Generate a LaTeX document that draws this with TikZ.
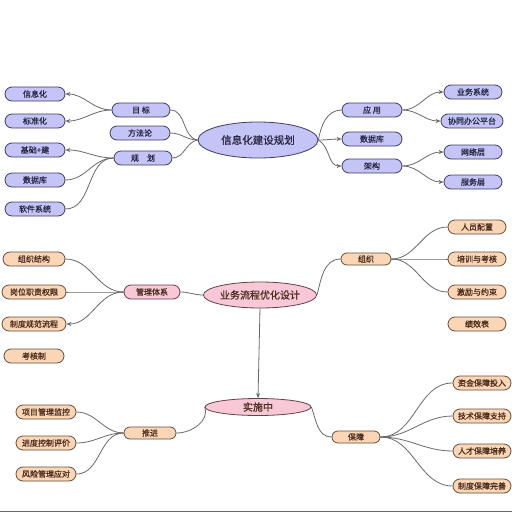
\documentclass[tikz,border=0pt]{standalone}
\usepackage{fontspec}
\newfontfamily\cjk[FakeBold=1]{Noto Sans CJK SC}
\usetikzlibrary{shapes.misc,shapes.geometric,arrows.meta}
\definecolor{bfill}{RGB}{196,196,246}
\definecolor{bdraw}{RGB}{60,60,100}
\definecolor{btext}{RGB}{40,40,70}
\definecolor{pfill}{RGB}{248,200,214}
\definecolor{pdraw}{RGB}{100,65,75}
\definecolor{ofill}{RGB}{250,214,182}
\definecolor{odraw}{RGB}{100,78,60}
\definecolor{otext}{RGB}{75,45,30}
\definecolor{conncol}{RGB}{105,105,105}
\begin{document}
\begin{tikzpicture}[x=1pt,y=-1pt,
  base/.style={rounded rectangle,inner sep=0pt,line width=0.8pt,font=\cjk\fontsize{8}{9}\selectfont},
  bbox/.style={base,fill=bfill,draw=bdraw,text=btext},
  pbox/.style={base,fill=pfill,draw=pdraw,text=otext},
  obox/.style={base,fill=ofill,draw=odraw,text=otext},
  bell/.style={ellipse,inner sep=0pt,fill=bfill,draw=bdraw,text=btext,line width=0.8pt,font=\cjk\fontsize{10.5}{11}\selectfont},
  pell/.style={ellipse,inner sep=0pt,fill=pfill,draw=pdraw,text=otext,line width=0.8pt,font=\cjk\fontsize{10}{11}\selectfont},
  conn/.style={draw=conncol,line width=0.8pt},
  arr/.style={conn,-{Stealth[length=5pt,width=4pt]}}
]
\useasboundingbox (0,0) rectangle (512,512);
\fill[white] (0,0) rectangle (512,512);

% ===== top section =====
\node[bell,minimum width=120pt,minimum height=36pt] (r1) at (258,140) {信息化建设规划};
\node[bbox,minimum width=58pt,minimum height=14pt] (l1a) at (141,110) {目\ 标};
\node[bbox,minimum width=60pt,minimum height=14pt] (l1b) at (140,133) {方法论};
\node[bbox,minimum width=58pt,minimum height=14pt] (l1c) at (143,158) {规\quad 划};
\node[bbox,minimum width=60pt,minimum height=14pt] (t1) at (35,94) {信息化};
\node[bbox,minimum width=60pt,minimum height=14pt] (t2) at (35,121) {标准化};
\node[bbox,minimum width=60pt,minimum height=14pt] (t3) at (35,150) {基础+建};
\node[bbox,minimum width=60pt,minimum height=14pt] (t4) at (35,180) {数据库};
\node[bbox,minimum width=60pt,minimum height=14pt] (t5) at (35,209) {软件系统};
\node[bbox,minimum width=60pt,minimum height=14pt] (r1a) at (372,110) {应\ 用};
\node[bbox,minimum width=60pt,minimum height=14pt] (r1b) at (372,139) {数据库};
\node[bbox,minimum width=60pt,minimum height=14pt] (r1c) at (372,166) {架构};
\node[bbox,minimum width=58pt,minimum height=14pt] (u1) at (473,92) {业务系统};
\node[bbox,minimum width=62pt,minimum height=14pt] (u2) at (472,121) {协同办公平台};
\node[bbox,minimum width=58pt,minimum height=14pt] (u3) at (473,152) {网络层};
\node[bbox,minimum width=58pt,minimum height=14pt] (u4) at (473,182) {服务层};

\draw[conn] (r1.west) to[out=170,in=0] (l1a.east);
\draw[conn] (r1.west) to[out=180,in=0] (l1b.east);
\draw[conn] (r1.west) to[out=190,in=0] (l1c.east);
\draw[arr] (l1a.west) to[out=180,in=0] (t1.east);
\draw[arr] (l1a.west) to[out=180,in=0] (t2.east);
\draw[arr] (l1c.west) to[out=180,in=0] (t3.east);
\draw[conn] (l1c.west) to[out=180,in=0] (t4.east);
\draw[conn] (l1c.west) to[out=180,in=0] (t5.east);
\draw[conn] (r1.east) to[out=80,in=180] (r1a.west);
\draw[arr] (r1.east) to[out=0,in=180] (r1b.west);
\draw[arr] (r1.east) to[out=-30,in=180] (r1c.west);
\draw[arr] (r1a.east) to[out=0,in=180] (u1.west);
\draw[arr] (r1a.east) to[out=0,in=180] (u2.west);
\draw[arr] (r1c.east) to[out=0,in=180] (u3.west);
\draw[arr] (r1c.east) to[out=0,in=180] (u4.west);

% ===== middle section =====
\node[pell,minimum width=108pt,minimum height=26pt] (r2) at (260,295) {业务流程优化设计};
\node[pbox,minimum width=56pt,minimum height=14pt] (l2) at (152,292) {管理体系};
\node[obox,minimum width=62pt,minimum height=14pt] (m1) at (34,259) {组织结构};
\node[obox,minimum width=64pt,minimum height=14pt] (m2) at (34,292) {岗位职责权限};
\node[obox,minimum width=64pt,minimum height=14pt] (m3) at (34,324) {制度规范流程};
\node[obox,minimum width=60pt,minimum height=14pt] (m4) at (34,356) {考核制};
\node[obox,minimum width=50pt,minimum height=12pt] (r2a) at (366,259) {组织};
\node[obox,minimum width=58pt,minimum height=14pt] (n1) at (477,227) {人员配置};
\node[obox,minimum width=58pt,minimum height=14pt] (n2) at (477,259) {培训与考核};
\node[obox,minimum width=58pt,minimum height=14pt] (n3) at (477,292) {激励与约束};
\node[obox,minimum width=58pt,minimum height=14pt] (n4) at (477,324) {绩效表};

\draw[conn] (r2.west) to[out=180,in=0] (l2.east);
\draw[conn] (l2.west) to[out=180,in=0] (m1.east);
\draw[conn] (l2.west) to[out=180,in=0] (m2.east);
\draw[arr] (l2.west) to[out=180,in=0] (m3.east);
\draw[conn] (r2.east) to[out=75,in=180] (r2a.west);
\draw[conn] (r2a.east) to[out=0,in=180] (n1.west);
\draw[conn] (r2a.east) to[out=0,in=180] (n2.west);
\draw[conn] (r2a.east) to[out=0,in=180] (n3.west);

% ===== bottom section =====
\node[pell,minimum width=106pt,minimum height=17pt] (r3) at (258,407) {实施中};
\draw[arr] (r2.south) -- (r3.north);
\node[obox,minimum width=52pt,minimum height=12pt] (l3) at (150,433) {推进};
\node[obox,minimum width=60pt,minimum height=14pt] (k1) at (46,412) {项目管理监控};
\node[obox,minimum width=60pt,minimum height=14pt] (k2) at (46,443) {进度控制评价};
\node[obox,minimum width=60pt,minimum height=14pt] (k3) at (46,474) {风险管理应对};
\node[obox,minimum width=48pt,minimum height=12pt] (r3a) at (356,437) {保障};
\node[obox,minimum width=58pt,minimum height=14pt] (q1) at (482,383) {资金保障投入};
\node[obox,minimum width=58pt,minimum height=14pt] (q2) at (482,416) {技术保障支持};
\node[obox,minimum width=58pt,minimum height=14pt] (q3) at (482,451) {人才保障培养};
\node[obox,minimum width=58pt,minimum height=14pt] (q4) at (482,486) {制度保障完善};

\draw[conn] (r3.west) to[out=-70,in=0] (l3.east);
\draw[conn] (l3.west) to[out=180,in=0] (k1.east);
\draw[conn] (l3.west) to[out=180,in=0] (k2.east);
\draw[conn] (l3.west) to[out=180,in=0] (k3.east);
\draw[conn] (r3.east) to[out=-70,in=180] (r3a.west);
\draw[conn] (r3a.east) to[out=0,in=180] (q1.west);
\draw[conn] (r3a.east) to[out=0,in=180] (q2.west);
\draw[conn] (r3a.east) to[out=0,in=180] (q3.west);
\draw[conn] (r3a.east) to[out=0,in=180] (q4.west);

\coordinate (bl) at (0,511);
\coordinate (br) at (512,511);
\draw[conncol,line width=1pt] (bl) -- (br);
\end{tikzpicture}
\end{document}
